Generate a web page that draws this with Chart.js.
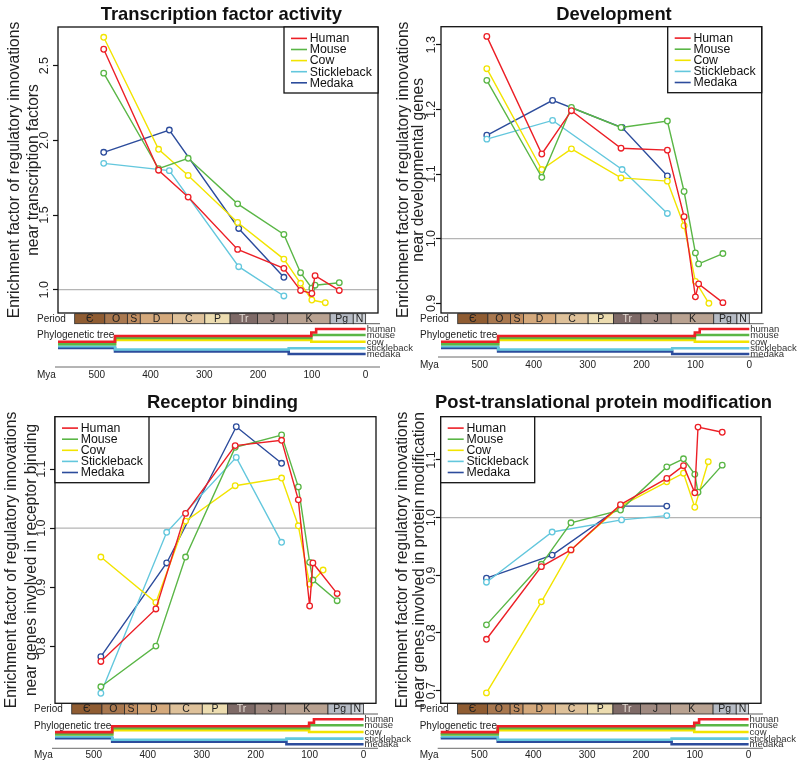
<!DOCTYPE html>
<html>
<head>
<meta charset="utf-8">
<script src="https://cdn.jsdelivr.net/npm/chart.js@4.4.0/dist/chart.umd.min.js"></script>
<style>
  body { margin: 0; background: #fff; }
  #wrap { position: relative; width: 800px; height: 768px; overflow: hidden; }
  #wrap canvas { position: absolute; }
</style>
</head>
<body>
<div id="wrap">
  <canvas id="c1" width="440" height="384" style="left:0;top:0"></canvas>
  <canvas id="c2" width="410" height="384" style="left:390px;top:0"></canvas>
  <canvas id="c3" width="440" height="384" style="left:0;top:384px"></canvas>
  <canvas id="c4" width="410" height="384" style="left:390px;top:384px"></canvas>
</div>
<script>
// DATA
const SPECIES = ['Human', 'Mouse', 'Cow', 'Stickleback', 'Medaka'];
const COLORS = ['#ec1f26', '#5ab646', '#f2e400', '#63c7dd', '#2c4c9c'];

// sampled time points (Mya) for each lineage
const mammalMya = [487, 385, 330, 238, 152, 121, 100, 94, 49];
const cowMya = [487, 385, 330, 238, 152, 121, 100, 75];
const fishMya = [487, 365, 236, 152];

// Transcription factor activity
const tfHuman = [2.61, 1.80, 1.62, 1.27, 1.143, 0.995, 0.975, 1.094, 0.995];
const tfMouse = [2.45, 1.81, 1.88, 1.575, 1.37, 1.114, 1.01, 1.03, 1.047];
const tfCow = [2.69, 1.94, 1.765, 1.45, 1.205, 1.043, 0.931, 0.913];
const tfStickleback = [1.846, 1.797, 1.154, 0.958];
const tfMedaka = [1.92, 2.069, 1.41, 1.083];
const tfTicks = [1.0, 1.5, 2.0, 2.5];

// Development
const devHuman = [1.313, 1.131, 1.198, 1.14, 1.137, 1.034, 0.91, 0.93, 0.901];
const devMouse = [1.245, 1.095, 1.203, 1.172, 1.182, 1.073, 0.978, 0.961, 0.977];
const devCow = [1.263, 1.107, 1.139, 1.094, 1.089, 1.02, 0.934, 0.90];
const devStickleback = [1.154, 1.183, 1.107, 1.039];
const devMedaka = [1.16, 1.214, 1.172, 1.097];
const devTicks = [0.9, 1.0, 1.1, 1.2, 1.3];

// Receptor binding
const recHuman = [0.774, 0.863, 1.025, 1.14, 1.149, 1.048, 0.868, 0.941, 0.889];
const recMouse = [0.731, 0.80, 0.951, 1.137, 1.158, 1.07, 0.942, 0.912, 0.877];
const recCow = [0.951, 0.874, 1.012, 1.072, 1.085, 1.004, 0.905, 0.929];
const recStickleback = [0.72, 0.993, 1.12, 0.976];
const recMedaka = [0.782, 0.941, 1.172, 1.11];
const recTicks = [0.8, 0.9, 1.0, 1.1];

// Post-translational protein modification
const ptmHuman = [0.789, 0.915, 0.944, 1.0225, 1.068, 1.09, 1.043, 1.157, 1.148];
const ptmMouse = [0.814, 0.919, 0.991, 1.013, 1.088, 1.102, 1.075, 1.044, 1.091];
const ptmCow = [0.696, 0.854, 0.944, 1.02, 1.062, 1.077, 1.018, 1.097];
const ptmStickleback = [0.888, 0.975, 0.996, 1.0035];
const ptmMedaka = [0.895, 0.935, 1.02, 1.02];
const ptmTicks = [0.7, 0.8, 0.9, 1.0, 1.1];

// geological periods (Mya)
const periodNames = ['Є', 'O', 'S', 'D', 'C', 'P', 'Tr', 'J', 'K', 'Pg', 'N'];
const periodStart = [541, 485, 443, 419, 359, 299, 252, 201, 145, 66, 23];
const periodEnd = [485, 443, 419, 359, 299, 252, 201, 145, 66, 23, 0];
const periodColors = ['#8f5c32', '#a9784f', '#c08d60', '#d4a97c', '#dec19a', '#ecdcb0',
                      '#7e6a67', '#a08a81', '#b9a291', '#b6bbc4', '#d0d4da'];

// phylogeny split times (Mya) and Mya axis
const treeLeaves = ['human', 'mouse', 'cow', 'stickleback', 'medaka'];
const splitHumanMouse = 92;
const splitCow = 101;
const splitFish = 143;
const splitVert = 466;
const myaTicks = [500, 400, 300, 200, 100, 0];

const X_MIN = -23, X_MAX = 572;
const FONT = '"Liberation Sans", Arial, Helvetica, sans-serif';
const seriesMya = [mammalMya, mammalMya, cowMya, fishMya, fishMya];

// draws frame, titles, rotated y labels, legend, period bar, tree and Mya axis
function makeDecor(cfg) {
  return {
    id: 'decor',
    beforeDatasetsDraw(chart) {
      const { ctx, chartArea: a } = chart;
      const y1 = chart.scales.y.getPixelForValue(1);
      ctx.save();
      ctx.strokeStyle = '#b5b5b5';
      ctx.lineWidth = 1.2;
      ctx.beginPath(); ctx.moveTo(a.left, y1); ctx.lineTo(a.right, y1); ctx.stroke();
      ctx.restore();
    },
    afterDraw(chart) {
      const { ctx, chartArea: a } = chart;
      const xs = chart.scales.x, ys = chart.scales.y;
      const B = a.bottom;
      ctx.save();

      // frame
      ctx.strokeStyle = '#111';
      ctx.lineWidth = 1.3;
      ctx.strokeRect(a.left, a.top, a.right - a.left, a.bottom - a.top);

      // title
      ctx.fillStyle = '#111';
      ctx.font = 'bold 18.4px ' + FONT;
      ctx.textAlign = 'center';
      ctx.textBaseline = 'alphabetic';
      ctx.fillText(cfg.title, cfg.titleX, cfg.titleY + 6.6);

      // y tick labels (rotated like R)
      ctx.font = '12.5px ' + FONT;
      ctx.fillStyle = '#222';
      ys.ticks.forEach(t => {
        ctx.save();
        ctx.translate(a.left - cfg.tickGap, ys.getPixelForValue(t.value));
        ctx.rotate(-Math.PI / 2);
        ctx.textBaseline = 'middle';
        ctx.fillText(t.value.toFixed(1), 0, 0);
        ctx.restore();
      });

      // y axis title, two lines
      ctx.font = '15.6px ' + FONT;
      const midY = (a.top + a.bottom) / 2;
      cfg.ytitle.forEach((line, i) => {
        ctx.save();
        ctx.translate(a.left - cfg.titleGaps[i], midY);
        ctx.rotate(-Math.PI / 2);
        ctx.textBaseline = 'middle';
        ctx.fillText(line, 0, 0);
        ctx.restore();
      });

      // legend
      const lw = 94, lh = 66;
      const lx = cfg.legend === 'right' ? a.right - lw : a.left;
      ctx.fillStyle = '#fff';
      ctx.fillRect(lx, a.top, lw, lh);
      ctx.strokeStyle = '#111';
      ctx.lineWidth = 1.3;
      ctx.strokeRect(lx, a.top, lw, lh);
      ctx.font = '12.3px ' + FONT;
      ctx.textAlign = 'left';
      ctx.textBaseline = 'middle';
      chart.data.datasets.forEach((ds, i) => {
        const yy = a.top + 11.4 + i * 11.1;
        ctx.strokeStyle = ds.borderColor;
        ctx.lineWidth = 1.6;
        ctx.beginPath(); ctx.moveTo(lx + 7, yy); ctx.lineTo(lx + 23, yy); ctx.stroke();
        ctx.fillStyle = '#111';
        ctx.fillText(ds.label, lx + 25.7, yy + 0.5);
      });

      // period bar
      ctx.font = '10.5px ' + FONT;
      periodNames.forEach((nm, i) => {
        const x0 = xs.getPixelForValue(periodStart[i]);
        const x1 = xs.getPixelForValue(periodEnd[i]);
        ctx.fillStyle = periodColors[i];
        ctx.fillRect(x0, B + 0.7, x1 - x0, 10);
        ctx.strokeStyle = '#2a2a2a';
        ctx.lineWidth = 0.8;
        ctx.strokeRect(x0, B + 0.7, x1 - x0, 10);
        ctx.fillStyle = nm === 'Tr' ? '#e4dbd3' : '#222';
        ctx.textAlign = 'center';
        ctx.fillText(nm, (x0 + x1) / 2, B + 6);
      });
      ctx.strokeStyle = '#333';
      ctx.lineWidth = 0.8;
      ctx.beginPath();
      ctx.moveTo(xs.getPixelForValue(0), B + 10.7);
      ctx.lineTo(a.right + 2, B + 10.7);
      ctx.stroke();

      ctx.font = '10px ' + FONT;
      ctx.fillStyle = '#222';
      ctx.textAlign = 'left';
      ctx.fillText('Period', a.left - 21, B + 6);
      ctx.fillText('Phylogenetic tree', a.left - 21, B + 22.7);

      // phylogenetic tree (lineage paths in Mya / row offset)
      const lineages = [
        [4, [[0, 41], [splitFish, 41], [splitFish, 38.5], [splitVert, 38.5], [splitVert, 35], [X_MAX, 35]]],
        [3, [[0, 35.3], [splitFish, 35.3], [splitFish, 36.5], [splitVert, 36.5], [splitVert, 33.2], [X_MAX, 33.2]]],
        [2, [[0, 28.7], [splitCow, 28.7], [splitCow, 27], [splitVert, 27], [splitVert, 31], [X_MAX, 31]]],
        [1, [[0, 22], [splitCow, 22], [splitCow, 25], [splitVert, 25], [splitVert, 31], [X_MAX, 31]]],
        [0, [[0, 16], [splitHumanMouse, 16], [splitHumanMouse, 19.5], [splitCow, 19.5], [splitCow, 23], [splitVert, 23], [splitVert, 28.8], [X_MAX, 28.8]]]
      ];
      ctx.lineWidth = 2.6;
      ctx.lineJoin = 'miter';
      lineages.forEach(([si, pts]) => {
        ctx.strokeStyle = COLORS[si];
        ctx.beginPath();
        pts.forEach(([m, dy], k) => {
          const px = xs.getPixelForValue(m), py = B + dy;
          if (k === 0) ctx.moveTo(px, py); else ctx.lineTo(px, py);
        });
        ctx.stroke();
      });
      const leafRows = [16, 22, 28.7, 35.3, 41];
      ctx.font = '9.5px ' + FONT;
      ctx.fillStyle = '#333';
      treeLeaves.forEach((nm, i) => {
        ctx.fillText(nm, xs.getPixelForValue(0) + 1, B + leafRows[i] + 0.5);
      });

      // Mya axis
      ctx.strokeStyle = '#444';
      ctx.lineWidth = 0.8;
      ctx.beginPath();
      ctx.moveTo(a.left - 3, B + cfg.axisLine);
      ctx.lineTo(a.right + 2, B + cfg.axisLine);
      ctx.stroke();
      ctx.font = '10px ' + FONT;
      ctx.fillStyle = '#222';
      ctx.fillText('Mya', a.left - 21, B + cfg.axisLab);
      ctx.textAlign = 'center';
      myaTicks.forEach(m => ctx.fillText(String(m), xs.getPixelForValue(m), B + cfg.axisLab));

      ctx.restore();
    }
  };
}

const panels = [
  { id: 'c1', w: 440, h: 384, l: 58, r: 378, t: 27, b: 313,
    title: 'Transcription factor activity', titleX: 221.3, titleY: 13,
    ytitle: ['Enrichment factor of regulatory innovations', 'near transcription factors'],
    series: [tfHuman, tfMouse, tfCow, tfStickleback, tfMedaka], ticks: tfTicks, ymin: 0.844, ymax: 2.759,
    tickGap: 13, titleGaps: [43, 24.7], legend: 'right', axisLine: 54, axisLab: 62 },
  { id: 'c2', w: 410, h: 384, l: 51, r: 371.7, t: 26.7, b: 313,
    title: 'Development', titleX: 224, titleY: 13,
    ytitle: ['Enrichment factor of regulatory innovations', 'near developmental genes'],
    series: [devHuman, devMouse, devCow, devStickleback, devMedaka], ticks: devTicks, ymin: 0.885, ymax: 1.328,
    tickGap: 9.3, titleGaps: [37, 22.7], legend: 'right', axisLine: 44, axisLab: 52 },
  { id: 'c3', w: 440, h: 384, l: 55, r: 376, t: 32.7, b: 319.3,
    title: 'Receptor binding', titleX: 222.5, titleY: 17.7,
    ytitle: ['Enrichment factor of regulatory innovations', 'near genes involved in receptor binding'],
    series: [recHuman, recMouse, recCow, recStickleback, recMedaka], ticks: recTicks, ymin: 0.703, ymax: 1.189,
    tickGap: 13.3, titleGaps: [43.3, 23.3], legend: 'left', axisLine: 45, axisLab: 52.4 },
  { id: 'c4', w: 410, h: 384, l: 50.7, r: 371, t: 32.7, b: 319.3,
    title: 'Post-translational protein modification', titleX: 213.5, titleY: 17.7,
    ytitle: ['Enrichment factor of regulatory innovations', 'near genes involved in protein modification'],
    series: [ptmHuman, ptmMouse, ptmCow, ptmStickleback, ptmMedaka], ticks: ptmTicks, ymin: 0.678, ymax: 1.175,
    tickGap: 9, titleGaps: [37.7, 20.7], legend: 'left', axisLine: 45, axisLab: 52 }
];

panels.forEach(cfg => {
  new Chart(document.getElementById(cfg.id), {
    type: 'line',
    data: {
      datasets: SPECIES.map((name, i) => ({
        label: name,
        data: cfg.series[i].map((v, k) => ({ x: seriesMya[i][k], y: v })),
        borderColor: COLORS[i],
        backgroundColor: COLORS[i],
        borderWidth: 1.4,
        pointRadius: 2.8,
        pointBorderWidth: 1.3,
        pointBackgroundColor: '#fff',
        pointBorderColor: COLORS[i],
        tension: 0,
        fill: false
      }))
    },
    options: {
      responsive: false,
      animation: false,
      events: [],
      layout: { padding: { left: 0, top: cfg.t, right: cfg.w - cfg.r, bottom: cfg.h - cfg.b } },
      scales: {
        x: { type: 'linear', reverse: true, min: X_MIN, max: X_MAX, display: false },
        y: {
          type: 'linear', min: cfg.ymin, max: cfg.ymax,
          afterFit(s) { s.width = cfg.l; },
          afterBuildTicks(s) { s.ticks = cfg.ticks.map(v => ({ value: v })); },
          ticks: { display: false },
          border: { display: false },
          grid: { drawOnChartArea: false, drawTicks: true, tickLength: 5, tickColor: '#111', tickWidth: 1.2 }
        }
      },
      plugins: { legend: { display: false }, tooltip: { enabled: false } }
    },
    plugins: [makeDecor(cfg)]
  });
});
</script>
</body>
</html>
